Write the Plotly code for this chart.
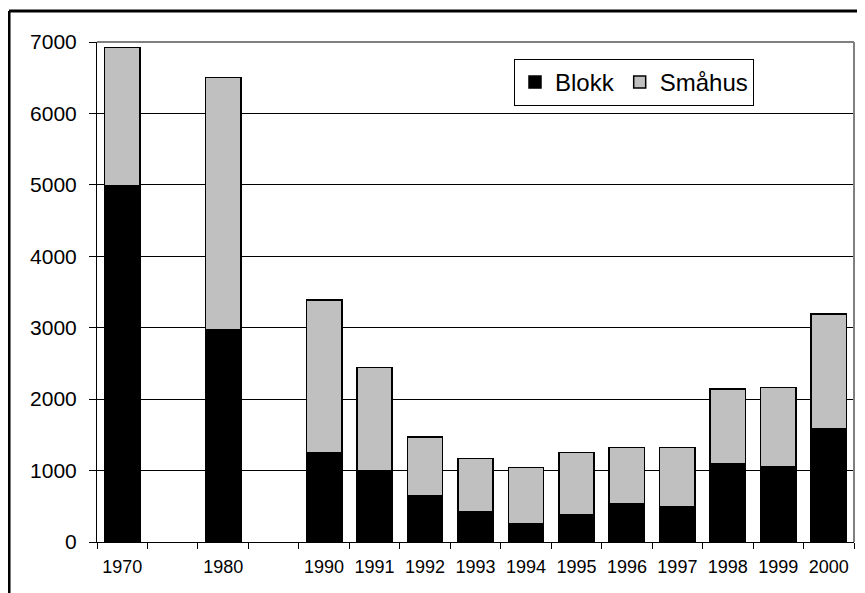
import plotly.graph_objects as go

# blank slots keep the gaps between 1970, 1980 and 1990
years = ["1970", " ", "1980", "  ", "1990", "1991", "1992", "1993", "1994",
         "1995", "1996", "1997", "1998", "1999", "2000"]
blokk = [4990, None, 2970, None, 1250, 1000, 650, 430, 250, 380, 530, 500,
         1100, 1050, 1580]
smahus = [1930, None, 3530, None, 2140, 1440, 820, 740, 790, 870, 790, 820,
          1040, 1110, 1610]

FONT = "Liberation Sans, Arial, sans-serif"

fig = go.Figure()

fig.add_trace(go.Bar(
    x=years, y=blokk, name="Blokk",
    marker=dict(color="#000000", line=dict(color="#000000", width=1.5)),
))
fig.add_trace(go.Bar(
    x=years, y=smahus, name="Småhus",
    marker=dict(color="#C0C0C0", line=dict(color="#000000", width=1.5)),
))

# page body has an 8px margin, so the figure is a bit smaller than the window
fig.update_layout(
    width=857, height=585,
    barmode="stack",
    bargap=0.3,
    paper_bgcolor="white",
    plot_bgcolor="white",
    font=dict(family=FONT, color="black"),
    margin=dict(l=89, r=11, t=34, b=51),
    legend=dict(
        orientation="h",
        x=(506 - 89) / 757, y=(534 - 51) / 500, xanchor="left", yanchor="top",
        bordercolor="black", borderwidth=1,
        font=dict(size=24, family=FONT),
        bgcolor="white",
        traceorder="normal",
    ),
    xaxis=dict(
        type="category",
        categoryorder="array", categoryarray=years,
        tickson="boundaries",
        ticks="outside", ticklen=6, tickcolor="black",
        ticklabelstandoff=8,
        showline=True, linecolor="black", linewidth=1,
        showgrid=False,
        tickfont=dict(size=18, family=FONT),
        range=[-0.5, 14.5],
    ),
    yaxis=dict(
        range=[0, 7000],
        dtick=1000,
        ticks="outside", ticklen=7, tickcolor="black",
        ticklabelstandoff=8,
        showline=True, linecolor="black", linewidth=1,
        showgrid=True, gridcolor="black", gridwidth=1,
        tickfont=dict(size=21, family=FONT),
        zeroline=False,
    ),
    shapes=[
        # plot area border on top and right
        dict(type="line", xref="paper", yref="paper", x0=0, x1=1, y0=1, y1=1,
             line=dict(color="#808080", width=2)),
        dict(type="line", xref="paper", yref="paper", x0=1, x1=1, y0=0, y1=1,
             line=dict(color="#808080", width=2)),
        # outer chart frame (runs off the right and bottom edges)
        dict(type="line", xref="paper", yref="paper", x0=-0.1162, x1=1.2,
             y0=1.062, y1=1.062, line=dict(color="black", width=3)),
        dict(type="line", xref="paper", yref="paper", x0=-0.1162, x1=-0.1162,
             y0=1.062, y1=-0.2, line=dict(color="black", width=3)),
    ],
)

fig.write_html("out.html")
